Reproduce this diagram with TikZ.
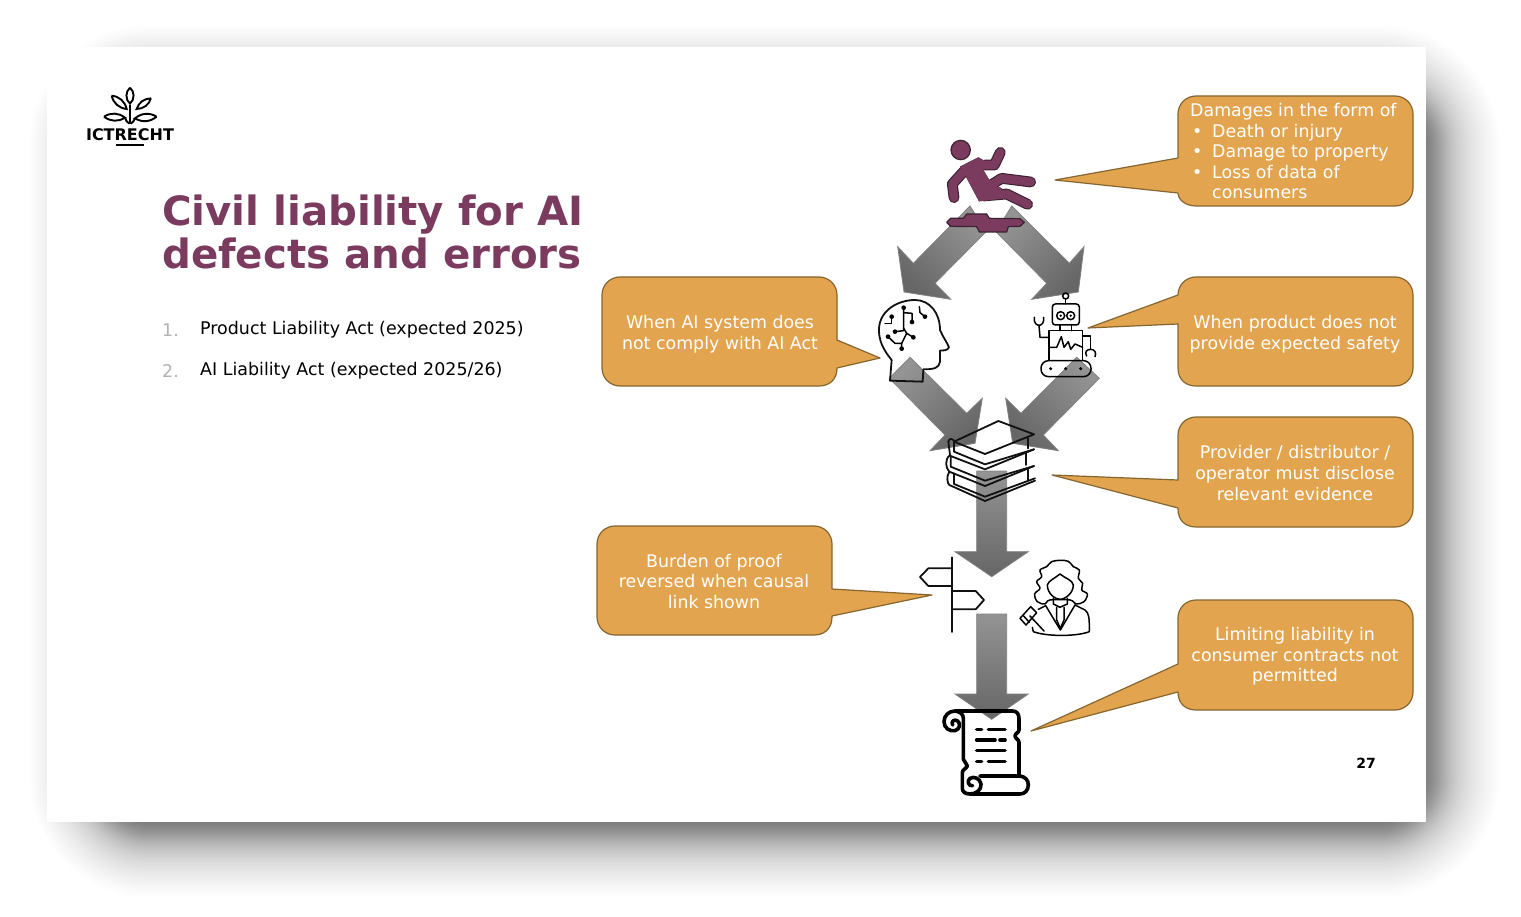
\documentclass[tikz,border=0pt]{standalone}
\usepackage{fontspec}
\setmainfont{DejaVu Sans}
\definecolor{plum}{HTML}{7A3B5E}
\definecolor{plumdark}{HTML}{3A2230}
\definecolor{callfill}{HTML}{E2A44F}
\definecolor{callline}{HTML}{86662F}
\definecolor{inkline}{HTML}{111111}
\tikzset{
  calloutshape/.style={fill=callfill,draw=callline,line width=1.2pt,line join=round},
  calltext/.style={text=white,align=center,font=\fontsize{17.4}{20.6}\selectfont,inner sep=0pt},
  blockarrow/.style={top color=black!42,bottom color=black!60,draw=black!50,line width=.8pt,line join=miter},
  iconline/.style={draw=inkline,line width=1.8pt,line join=round,line cap=round},
  iconthin/.style={draw=black,line width=1.5pt,line join=round,line cap=round},
  scrollline/.style={draw=black,line width=3.6pt,line join=round,line cap=round},
  limbline/.style={line cap=round,line join=round},
  dotmark/.style={fill=black,draw=none},
  listtext/.style={anchor=west,font=\fontsize{17.45}{20}\selectfont,inner sep=0pt},
  listnum/.style={anchor=west,text=black!30,font=\fontsize{17.45}{20}\selectfont,inner sep=0pt},
}
% callout with its tail on the left: x1,y1,x2,y2, tail base b1,b2, tip tx,ty
\newcommand{\calloutleft}[8]{%
  \pgfmathsetmacro{\cornerstart}{max(#6,#4-18)}%
  \draw[calloutshape] (#1,#5) -- (#1,#2+18) .. controls (#1,#2+8) and (#1+8,#2) .. (#1+18,#2)
    -- (#3-18,#2) .. controls (#3-8,#2) and (#3,#2+8) .. (#3,#2+18)
    -- (#3,#4-18) .. controls (#3,#4-8) and (#3-8,#4) .. (#3-18,#4)
    -- (#1+18,#4) .. controls (#1+8,#4) and (#1,#4-6) .. (#1,\cornerstart) -- (#1,#6)
    -- (#7,#8) -- cycle;}
% callout with its tail on the right
\newcommand{\calloutright}[8]{%
  \pgfmathsetmacro{\cornerstart}{max(#6,#4-18)}%
  \draw[calloutshape] (#3,#5) -- (#3,#2+18) .. controls (#3,#2+8) and (#3-8,#2) .. (#3-18,#2)
    -- (#1+18,#2) .. controls (#1+8,#2) and (#1,#2+8) .. (#1,#2+18)
    -- (#1,#4-18) .. controls (#1,#4-8) and (#1+8,#4) .. (#1+18,#4)
    -- (#3-18,#4) .. controls (#3-8,#4) and (#3,#4-6) .. (#3,\cornerstart) -- (#3,#6)
    -- (#7,#8) -- cycle;}
\begin{document}
\begin{tikzpicture}[x=1pt,y=-1pt]
\useasboundingbox (0,0) rectangle (1521,917);
\fill[white] (0,0) rectangle (1521,917);
% soft shadow
\foreach \i in {0,...,89}{
  \pgfmathsetmacro{\tt}{(\i+0.5)/90-0.5}
  \pgfmathsetmacro{\ex}{-(60*\tt+240*\tt*\tt*\tt)}
  \pgfmathsetmacro{\rad}{max(2,62+\ex)}
  \fill[black,opacity=0.0085,rounded corners=\rad pt]
    (88-\ex,84-\ex) rectangle (1441+\ex,838+\ex);
}
% slide
\fill[white] (47,47) rectangle (1426,822);

% logo
\begin{scope}[shift={(70,75)},scale=1/3,line width=1.9pt,draw=black]
  \draw (180,38) to[bend left=50] (180,86) to[bend left=50] (180,38);
  \draw (125,62) to[bend left=35] (170,102) to[bend left=35] (125,62);
  \draw (243,70) to[bend left=35] (200,102) to[bend left=35] (243,70);
  \draw (102,125) to[bend left=35] (165,128) to[bend left=35] (102,125);
  \draw (260,125) to[bend left=35] (195,130) to[bend left=35] (260,125);
  \draw (180,90) -- (180,148);
  \draw (165,128) to[bend right=20] (178,146);
  \draw (195,130) to[bend left=20] (182,146);
  \draw[line width=1.3pt] (138,210) -- (222,210);
\end{scope}
\node[inner sep=0pt,font=\bfseries\fontsize{16}{16}\selectfont] (logotext) at (130,134.5) {ICTRECHT};

% title and list
\node[anchor=north west,inner sep=0pt,text=plum,align=left,font=\bfseries\fontsize{40.3}{43}\selectfont] (title) at (162,194.5) {Civil liability for AI\\defects and errors};
\node[listnum] (num1) at (162,330) {1.};
\node[listtext] (item1) at (200,330) {Product Liability Act (expected 2025)};
\node[listnum] (num2) at (162,371) {2.};
\node[listtext] (item2) at (200,371) {AI Liability Act (expected 2025/26)};
\node[inner sep=0pt,font=\bfseries\fontsize{14}{14}\selectfont] (pagenum) at (1366,763) {27};

% block arrows
\shadedraw[blockarrow,shading angle=-45] (970,206) -- (913.3,263.3) -- (897.7,246.7) -- (904,292) -- (950.7,299.3) -- (935,283.3) -- (986,231.7) -- cycle;
\shadedraw[blockarrow,shading angle=45] (1011.7,206) -- (1069.3,263.3) -- (1084,246.7) -- (1078.3,292) -- (1031.7,299.3) -- (1046.7,283.3) -- (996,231.7) -- cycle;
\shadedraw[blockarrow,shading angle=45] (910,357.3) -- (966.7,413.3) -- (982.3,398.3) -- (975,443.3) -- (930,450.7) -- (945,435) -- (889.3,378.3) -- cycle;
\shadedraw[blockarrow,shading angle=-45] (1076.7,357.3) -- (1021,413.3) -- (1005.7,398.3) -- (1012.7,443.3) -- (1058.3,450.7) -- (1043.3,435) -- (1099.3,378.3) -- cycle;
\shadedraw[blockarrow] (976.7,471) -- (1006.7,471) -- (1006.7,551.7) -- (1028.3,551.7) -- (991.7,576.7) -- (955,551.7) -- (976.7,551.7) -- cycle;
\shadedraw[blockarrow] (976.7,614) -- (1006.7,614) -- (1006.7,694) -- (1028.3,694) -- (991.7,719.3) -- (955,694) -- (976.7,694) -- cycle;

% falling person and puddle
\begin{scope}[shift={(860,120)},scale=1/3]
  \filldraw[fill=plum,draw=plumdark,line width=1.2pt] (302,90) circle (29);
  % outline pass, then fill pass
  \foreach \c/\w in {plumdark/10.8,plum/8.6}{
    \draw[\c,limbline,line width=\w pt] (375,135) -- (403,135) -- (421,97);
    \draw[\c,limbline,line width=\w pt] (385,200) -- (425,175) -- (512,186);
    \draw[\c,limbline,line width=\w pt] (370,228) -- (440,222) -- (503,253);
    \draw[\c,limbline,line width=\w pt] (315,150) -- (277,192) -- (282,233);
    \fill[\c] (300,140) -- (355,112) -- (376,124) -- (370,150) -- (395,192) -- (425,205) -- (425,236) -- (357,244) -- (322,178) -- cycle;
  }
  \filldraw[fill=plum,draw=plumdark,line width=1.2pt,line join=round]
    (272,295) -- (310,295) -- (320,282) -- (380,282) -- (388,295) -- (480,296) -- (493,307) -- (480,319) -- (445,320) -- (440,336) -- (358,336) -- (350,320) -- (272,319) -- (260,307) -- cycle;
\end{scope}

% brain head
\begin{scope}[shift={(860,120)},scale=1/3]
  \draw[iconline] (95,720) .. controls (70,690) and (55,660) .. (57,625) .. controls (60,570) and (115,540) .. (165,540)
    .. controls (210,540) and (240,580) .. (240,630) .. controls (248,650) and (260,665) .. (267,682)
    .. controls (262,692) and (250,692) .. (240,692) -- (240,725) .. controls (238,745) and (220,748) .. (190,748)
    -- (188,785) -- (90,782) -- cycle;
  \draw[iconthin] (95,590) -- (95,610) -- (75,610);
  \draw[iconthin] (131,563) -- (131,632) -- (105,635);
  \draw[iconthin] (131,578) -- (156,580) -- (156,606);
  \draw[iconthin] (178,560) -- (180,578) -- (195,590);
  \draw[iconthin] (84,650) -- (105,670) -- (125,670) -- (125,686);
  \draw[iconthin] (125,670) -- (140,640) -- (160,652);
  \draw[iconthin] (140,640) -- (131,625);
  \foreach \p in {(95,590),(131,563),(105,635),(156,606),(195,590),(84,650),(125,686),(160,652)}
    \fill[dotmark] \p circle (7);
\end{scope}

% robot
\begin{scope}[shift={(860,120)},scale=1/3]
  \draw[iconthin] (617,528) circle (9);
  \draw[iconthin] (617,537) -- (617,552);
  \draw[iconthin,rounded corners=3pt] (577,552) rectangle (658,615);
  \draw[iconthin] (602,587) circle (12) (632,587) circle (12);
  \fill[dotmark] (602,587) circle (4) (632,587) circle (4);
  \draw[iconthin] (600,615) -- (600,632) (635,615) -- (635,632);
  \draw[iconthin] (567,632) rectangle (668,722);
  \draw[iconthin] (567,682) -- (590,682) -- (604,650) -- (612,682) -- (625,665) -- (632,688) -- (645,672) -- (668,682);
  \draw[iconthin] (567,652) -- (540,652) -- (537,616);
  \draw[iconthin] (523,592) .. controls (520,610) and (532,616) .. (537,616) .. controls (545,616) and (553,608) .. (551,592);
  \draw[iconthin] (668,648) -- (692,648) -- (692,688);
  \draw[iconthin] (680,708) .. controls (672,695) and (682,688) .. (692,688) .. controls (704,688) and (710,698) .. (705,710);
  \draw[iconthin,rounded corners=7.5pt] (543,722) rectangle (693,770);
  \fill[dotmark] (572,746) circle (5) (617,746) circle (5) (662,746) circle (5);
\end{scope}

% books
\begin{scope}[shift={(860,370)},scale=1/3]
  \draw[iconline] (282,215) -- (415,153) -- (522,193) -- (375,252) -- cycle;
  \draw[iconline] (282,215) -- (282,245) -- (375,283) -- (522,238);
  \draw[iconline] (265,215) .. controls (268,205) and (275,203) .. (285,215);
  \draw[iconline] (265,215) -- (270,255) .. controls (252,270) and (258,295) .. (268,305) .. controls (258,320) and (262,340) .. (268,345) -- (375,393) -- (525,332);
  \draw[iconline] (272,258) -- (375,298) -- (522,238);
  \draw[iconline] (505,205) -- (505,235);
  \draw[iconline] (272,258) -- (272,290) -- (375,332) -- (522,288);
  \draw[iconline] (497,250) -- (497,285);
  \draw[iconline] (268,305) -- (375,348) -- (522,288);
  \draw[iconline] (282,310) -- (282,342) -- (375,380) -- (525,325);
  \draw[iconline] (505,297) -- (505,330);
\end{scope}

% signpost
\begin{scope}[shift={(860,370)},scale=1/3]
  \draw[iconline] (276,562) -- (276,786);
  \draw[iconline] (276,595) -- (205,595) -- (180,621) -- (205,648) -- (276,648);
  \draw[iconline] (276,663) -- (347,663) -- (372,690) -- (347,718) -- (276,718);
\end{scope}

% judge
\begin{scope}[shift={(860,370)},scale=1/3]
  \draw[iconthin] plot[smooth cycle,tension=.6] coordinates {(600,571) (625,574) (640,590) (658,600) (655,625) (668,640) (665,660) (682,672) (672,695) (648,702) (630,690) (570,690) (555,702) (532,695) (524,672) (540,655) (530,635) (545,620) (540,600) (560,590) (575,575)};
  \draw[iconthin] (600,612) .. controls (585,625) and (565,632) .. (562,645) .. controls (562,670) and (585,688) .. (600,688) .. controls (615,688) and (640,670) .. (640,645) .. controls (638,630) and (615,625) .. (600,612);
  \draw[iconthin] (580,685) -- (580,702) -- (600,712) -- (622,702) -- (622,685);
  \draw[iconthin] (557,707) -- (601,780) -- (645,705);
  \draw[iconthin] (590,712) -- (590,750) -- (601,775) -- (612,750) -- (612,712);
  \draw[iconthin] (645,705) -- (675,720) .. controls (688,730) and (688,745) .. (688,785) .. controls (650,800) and (560,800) .. (520,785) -- (517,772);
  \draw[iconthin] (557,707) -- (535,718);
  \draw[iconthin] (510,738) -- (552,783);
  \draw[iconthin] (480,745) -- (498,765) -- (530,728) -- (512,710) -- cycle;
  \draw[iconthin] (490,737) -- (508,757);
\end{scope}

% scroll
\begin{scope}[shift={(900,610)},scale=1/3]
  \draw[scrollline] (190,448) -- (190,325) .. controls (190,312) and (180,305) .. (165,303) -- (338,303) .. controls (350,303) and (357,312) .. (357,325) -- (357,360) .. controls (357,368) and (345,370) .. (345,378) .. controls (345,386) and (358,388) .. (357,398) -- (357,495);
  \draw[scrollline] (165,303) .. controls (145,303) and (132,318) .. (132,335) .. controls (132,355) and (150,365) .. (165,362) .. controls (180,358) and (183,340) .. (172,332) .. controls (162,327) and (152,335) .. (158,345);
  \draw[scrollline] (190,448) .. controls (192,458) and (202,460) .. (202,468) .. controls (200,475) and (187,478) .. (187,488) -- (187,535) .. controls (187,545) and (195,552) .. (210,552) -- (360,552) .. controls (375,552) and (385,540) .. (385,525) .. controls (385,510) and (375,500) .. (360,498) -- (240,498);
  \draw[scrollline] (210,552) .. controls (228,552) and (245,540) .. (243,522) .. controls (240,505) and (222,498) .. (210,505) .. controls (200,512) and (205,530) .. (218,527);
  \draw[scrollline] (230,358) -- (245,358) (265,358) -- (315,358);
  \draw[scrollline] (230,390) -- (285,390) (300,390) -- (315,390);
  \draw[scrollline] (230,422) -- (315,422);
  \draw[scrollline] (230,455) -- (245,455) (265,455) -- (315,455);
\end{scope}

% callouts
\calloutleft{1178}{96}{1413}{206}{158}{193}{1055}{180}
\node[calltext,anchor=north west,align=left] (call1) at (1190,103) {Damages in the form of\\
  \makebox[22pt][l]{\hspace{2pt}•}Death or injury\\
  \makebox[22pt][l]{\hspace{2pt}•}Damage to property\\
  \makebox[22pt][l]{\hspace{2pt}•}Loss of data of\\
  \makebox[22pt][l]{}consumers};

\calloutright{602}{277}{837}{386}{340}{368}{880}{358}
\node[calltext] (call2) at (720,334) {When AI system does\\not comply with AI Act};

\calloutleft{1178}{277}{1413}{386}{295}{324}{1088}{328}
\node[calltext] (call3) at (1295,334) {When product does not\\provide expected safety};

\calloutleft{1178}{417}{1413}{527}{480}{508}{1052}{475}
\node[calltext] (call4) at (1295,473) {Provider / distributor /\\operator must disclose\\relevant evidence};

\calloutright{597}{526}{832}{635}{589}{616}{932}{595}
\node[calltext] (call5) at (714,581.5) {Burden of proof\\reversed when causal\\link shown};

\calloutleft{1178}{600}{1413}{710}{664}{692}{1031}{731}
\node[calltext] (call6) at (1295,656.5) {Limiting liability in\\consumer contracts not\\permitted};
\end{tikzpicture}
\end{document}
